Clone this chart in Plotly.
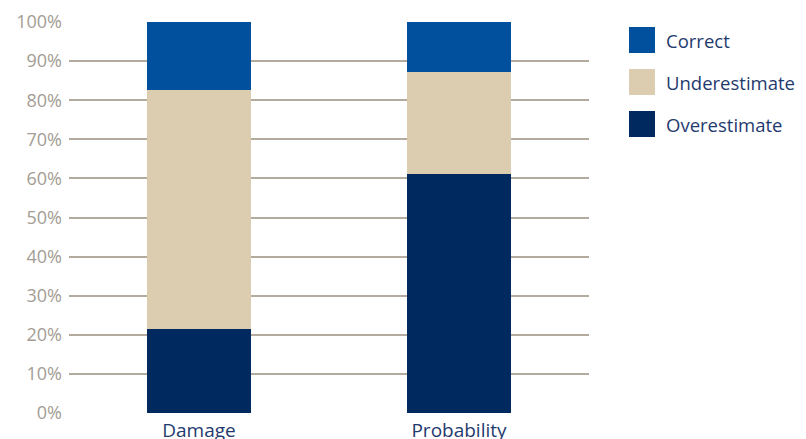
import plotly.graph_objects as go

categories = ["Damage", "Probability"]
series_names = ["Overestimate", "Underestimate", "Correct"]
overestimate = [21.4, 61.0]
underestimate = [61.2, 26.1]
correct = [17.4, 12.9]
y_ticks = [0, 10, 20, 30, 40, 50, 60, 70, 80, 90, 100]
y_tick_labels = [f"{v}%" for v in y_ticks]

colors = {"Overestimate": "#002a5f", "Underestimate": "#dccdb0", "Correct": "#00509e"}
values = {"Overestimate": overestimate, "Underestimate": underestimate, "Correct": correct}

fig = go.Figure()
for name in series_names:
    fig.add_trace(go.Bar(
        x=categories, y=values[name], name=name,
        marker=dict(color=colors[name], line=dict(width=0)),
        showlegend=False,
    ))

# manual legend (large square swatches)
legend_order = ["Correct", "Underestimate", "Overestimate"]
for i, name in enumerate(legend_order):
    yc = 40 + i * 42  # pixel centre from top
    fig.add_shape(type="rect", xref="paper", yref="paper",
                  x0=(629 - 69) / 520, x1=(655 - 69) / 520,
                  y0=(413 - (yc + 13)) / 391, y1=(413 - (yc - 13)) / 391,
                  fillcolor=colors[name], line=dict(width=0))
    fig.add_annotation(xref="paper", yref="paper",
                       x=(664 - 69) / 520, y=(413 - yc) / 391,
                       text=name, showarrow=False, xanchor="left", yanchor="middle",
                       font=dict(family="Open Sans", size=18.5, color="#1f3a6e"))

fig.update_layout(
    width=806, height=439,
    margin=dict(l=69, r=217, t=22, b=26),
    paper_bgcolor="white", plot_bgcolor="white",
    barmode="stack", bargap=0.6,
    font=dict(family="Open Sans"),
)
fig.update_yaxes(range=[0, 100], tickvals=y_ticks, ticktext=y_tick_labels,
                 showgrid=True, gridcolor="#b3ab9e", gridwidth=2,
                 zeroline=False, showline=False, ticks="",
                 ticklabelstandoff=6, automargin=False,
                 tickfont=dict(family="Open Sans", size=18, color="#a39d94"))
fig.update_xaxes(showgrid=False, zeroline=False, showline=False, ticks="",
                 automargin=False, ticklabelstandoff=4,
                 tickfont=dict(family="Open Sans", size=19, color="#1f3a6e"))

fig.write_html("out.html")
